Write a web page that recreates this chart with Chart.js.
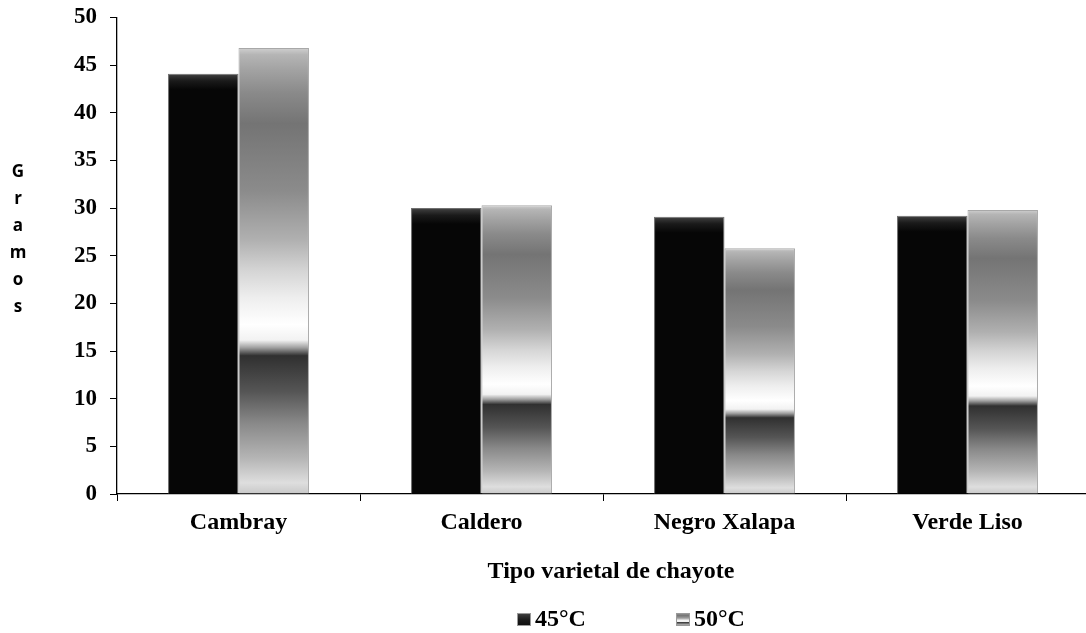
<!DOCTYPE html>
<html lang="es">
<head>
<meta charset="utf-8">
<title>Gramos por tipo varietal de chayote</title>
<script src="https://cdn.jsdelivr.net/npm/chart.js@4.4.1/dist/chart.umd.min.js"></script>
<style>
  html, body { margin: 0; padding: 0; background: #ffffff; overflow: hidden; }
  #wrap { width: 1089px; height: 633px; }
  canvas { display: block; }
</style>
</head>
<body>
<div id="wrap"><canvas id="chart" width="1089" height="633"></canvas></div>
<script>
// Varieties on the x axis
const categories = ['Cambray', 'Caldero', 'Negro Xalapa', 'Verde Liso'];
// Weight in grams at each drying temperature
const grams45 = [44.1, 30.0, 29.1, 29.2];
const grams50 = [46.8, 30.3, 25.8, 29.8];
const seriesNames = ['45°C', '50°C'];
const xTitle = 'Tipo varietal de chayote';
const yTitle = 'Gramos';

const SERIF = '"Liberation Serif", "Times New Roman", serif';

// Dark bar: near-black body with a soft grey bevel along the top
function darkFill(c, yTop) {
  const g = c.createLinearGradient(0, yTop, 0, yTop + 16);
  g.addColorStop(0, '#4a4a4a');
  g.addColorStop(0.15, '#353535');
  g.addColorStop(0.45, '#1a1a1a');
  g.addColorStop(1, '#060606');
  return g;
}

// Light bar: metallic "chrome" band, stretched over the bar height
function chromeFill(c, yTop, yBot) {
  const g = c.createLinearGradient(0, yTop, 0, yBot);
  const stops = [
    [0, '#d0d0d0'], [0.015, '#b5b5b5'], [0.05, '#a2a2a2'], [0.1, '#8a8a8a'],
    [0.17, '#747474'], [0.32, '#8b8b8b'], [0.43, '#b0b0b0'], [0.5, '#d5d5d5'],
    [0.56, '#eeeeee'], [0.62, '#ffffff'], [0.655, '#f2f2f2'], [0.672, '#a0a0a0'],
    [0.69, '#303030'], [0.77, '#555555'], [0.84, '#888888'], [0.92, '#b5b5b5'],
    [0.975, '#dedede'], [1, '#c8c8c8']
  ];
  stops.forEach(([o, col]) => g.addColorStop(o, col));
  return g;
}

function barFill(kind) {
  return (ctx) => {
    const chart = ctx.chart;
    const y = chart.scales && chart.scales.y;
    if (!chart.chartArea || !y || ctx.type !== 'data') return kind === 'dark' ? '#060606' : '#aaaaaa';
    const top = y.getPixelForValue(ctx.raw);
    const bot = y.getPixelForValue(0);
    return kind === 'dark' ? darkFill(chart.ctx, top) : chromeFill(chart.ctx, top, bot);
  };
}

// Vertical axis title stacked letter by letter, x axis title and the legend row
const decorations = {
  id: 'decorations',
  afterDraw(chart) {
    const c = chart.ctx;
    const area = chart.chartArea;
    c.save();
    c.fillStyle = '#000000';

    c.font = 'bold 17px "Open Sans", sans-serif';
    c.textAlign = 'center';
    c.textBaseline = 'alphabetic';
    yTitle.split('').forEach((ch, i) => c.fillText(ch, 18, 177 + i * 27));

    c.font = 'bold 24px ' + SERIF;
    c.fillText(xTitle, (area.left + area.right) / 2 + 8, 578);

    const starts = [517, 676];
    const base = 626;
    c.textAlign = 'left';
    seriesNames.forEach((name, i) => {
      const x = starts[i];
      const top = base - 13;
      c.fillStyle = i === 0 ? darkFill(c, top) : chromeFill(c, top, top + 13);
      c.fillRect(x, top, 14, 13);
      c.strokeStyle = '#9a9a9a';
      c.lineWidth = 1;
      c.strokeRect(x + 0.5, top + 0.5, 13, 12);
      c.fillStyle = '#000000';
      c.font = 'bold 24px ' + SERIF;
      c.fillText(name, x + 18, base);
    });
    c.restore();
  }
};

new Chart(document.getElementById('chart'), {
  type: 'bar',
  data: {
    labels: categories,
    datasets: [
      {
        label: seriesNames[0],
        data: grams45,
        backgroundColor: barFill('dark'),
        borderColor: '#707070',
        borderWidth: 1
      },
      {
        label: seriesNames[1],
        data: grams50,
        backgroundColor: barFill('chrome'),
        borderColor: '#a8a8a8',
        borderWidth: 1
      }
    ]
  },
  options: {
    responsive: false,
    animation: false,
    layout: { padding: { top: 17.5, left: 0, right: 0, bottom: 0 } },
    datasets: { bar: { categoryPercentage: 0.58, barPercentage: 1 } },
    plugins: {
      legend: { display: false },
      tooltip: { enabled: false },
      title: { display: false }
    },
    scales: {
      x: {
        afterFit: (s) => { s.height = 139; },
        grid: { display: true, drawOnChartArea: false, drawTicks: true, tickLength: 7, color: '#000000', offset: true },
        border: { display: true, color: '#000000', width: 1.3 },
        ticks: { color: '#000000', padding: 7, font: { family: SERIF, size: 24, weight: 'bold' }, maxRotation: 0 }
      },
      y: {
        min: 0,
        max: 50,
        afterFit: (s) => { s.width = 117; s.paddingTop = 0; s.paddingBottom = 0; },
        grid: { display: true, drawOnChartArea: false, drawTicks: true, tickLength: 7, color: '#000000' },
        border: { display: true, color: '#000000', width: 1.3 },
        ticks: { stepSize: 5, color: '#000000', padding: 13, font: { family: SERIF, size: 23, weight: 'bold' } }
      }
    }
  },
  plugins: [decorations]
});
</script>
</body>
</html>
